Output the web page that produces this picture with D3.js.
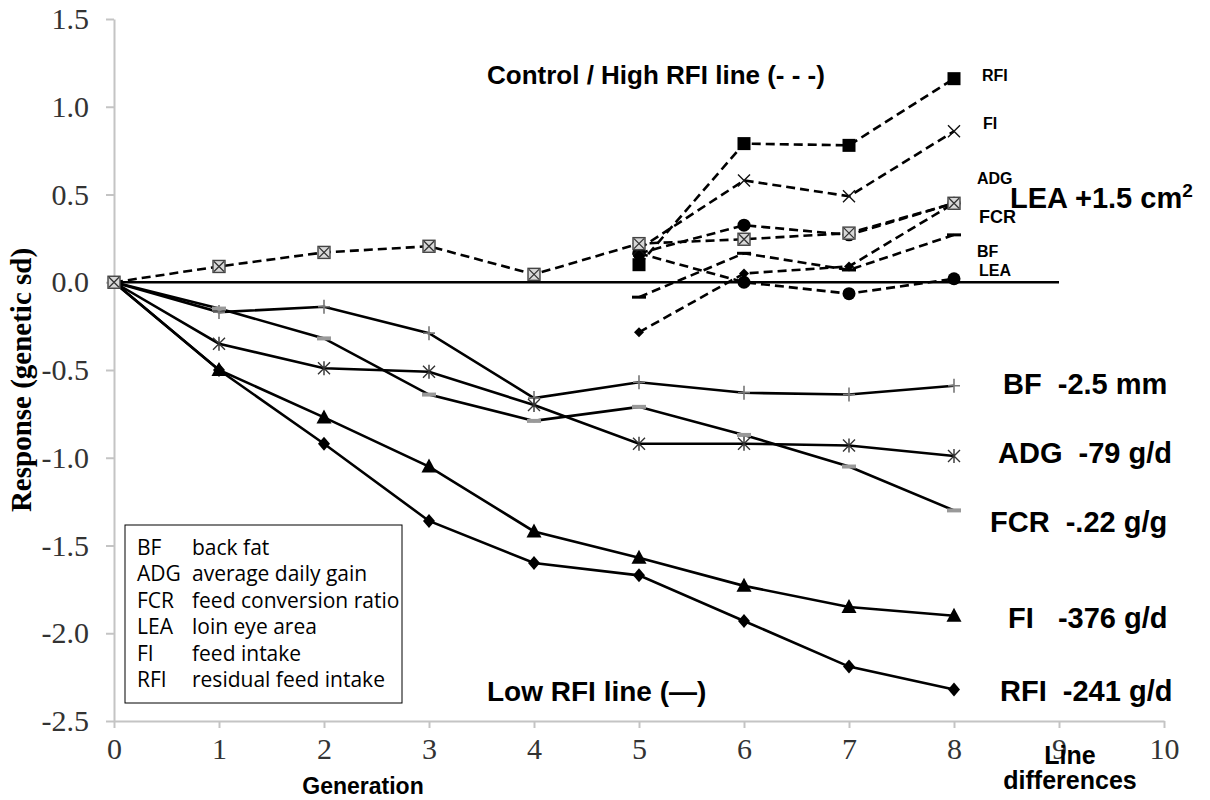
<!DOCTYPE html>
<html>
<head>
<meta charset="utf-8">
<script src="https://cdn.jsdelivr.net/npm/d3@7"></script>
<style>
  body { margin: 0; background: #fff; }
</style>
</head>
<body>
<div id="chart"></div>
<script>
var generations = [0, 1, 2, 3, 4, 5, 6, 7, 8];
var yTicks = [1.5, 1.0, 0.5, 0.0, -0.5, -1.0, -1.5, -2.0, -2.5];
var xTicks = [0, 1, 2, 3, 4, 5, 6, 7, 8, 9, 10];

// Low RFI line (solid)
var lowBF  = [0, -0.17, -0.14, -0.29, -0.66, -0.57, -0.63, -0.64, -0.59];
var lowADG = [0, -0.35, -0.49, -0.51, -0.70, -0.92, -0.92, -0.93, -0.99];
var lowFCR = [0, -0.15, -0.32, -0.64, -0.79, -0.71, -0.87, -1.05, -1.30];
var lowFI  = [0, -0.50, -0.77, -1.05, -1.42, -1.57, -1.73, -1.85, -1.90];
var lowRFI = [0, -0.50, -0.92, -1.36, -1.60, -1.67, -1.93, -2.19, -2.32];

// Control / High RFI line (dashed), null = not recorded
var ctlFCR   = [0, 0.09, 0.17, 0.205, 0.045, 0.22, 0.245, 0.28, 0.45];
var ctlRFI   = [null, null, null, null, null, 0.10, 0.79, 0.78, 1.16];
var ctlFI    = [null, null, null, null, null, 0.19, 0.58, 0.49, 0.86];
var ctlADG   = [null, null, null, null, null, 0.165, 0.325, 0.27, 0.45];
var ctlLEA   = [null, null, null, null, null, 0.165, 0.0, -0.065, 0.02];
var ctlBF    = [null, null, null, null, null, -0.085, 0.165, 0.07, 0.27];
var ctlExtra = [null, null, null, null, null, -0.285, 0.05, 0.09, 0.45];

var ctlLabels = ['RFI', 'FI', 'ADG', 'FCR', 'BF', 'LEA'];
var lineDiffs = ['BF  -2.5 mm', 'ADG  -79 g/d', 'FCR  -.22 g/g', 'FI   -376 g/d', 'RFI  -241 g/d'];
var legendAbbr = ['BF', 'ADG', 'FCR', 'LEA', 'FI', 'RFI'];
var legendDesc = ['back fat', 'average daily gain', 'feed conversion ratio', 'loin eye area', 'feed intake', 'residual feed intake'];

var WIDTH = 1210, HEIGHT = 800;
var SERIF = '"Liberation Serif", serif';
var SANS = '"Liberation Sans", Arial';

var x = d3.scaleLinear().domain([0, 10]).range([114, 1164]);
var y = d3.scaleLinear().domain([-2.5, 1.5]).range([721, 19]);

var svg = d3.select('#chart').append('svg')
  .attr('width', WIDTH)
  .attr('height', HEIGHT);

// axes
var yAxis = d3.axisLeft(y).tickValues(yTicks)
  .tickFormat(function(d) { return d.toFixed(1); })
  .tickSize(8).tickSizeOuter(0).tickPadding(17);
var xAxis = d3.axisBottom(x).tickValues(xTicks)
  .tickFormat(d3.format('d'))
  .tickSize(7).tickSizeOuter(0).tickPadding(10);

var gy = svg.append('g')
  .attr('transform', 'translate(' + x(0) + ',0)')
  .call(yAxis);
var gx = svg.append('g')
  .attr('transform', 'translate(0,' + y(-2.5) + ')')
  .call(xAxis);

[gx, gy].forEach(function(g) {
  g.attr('font-family', 'Liberation Serif').attr('font-size', 30);
  g.select('.domain').attr('stroke', '#c4c4c4').attr('stroke-width', 2);
  g.selectAll('.tick line').attr('stroke', '#c4c4c4').attr('stroke-width', 2);
  g.selectAll('.tick text')
    .attr('fill', '#333')
    .style('font-family', SERIF)
    .style('font-size', '30px');
});

// zero reference line
svg.append('line')
  .attr('x1', x(0)).attr('x2', x(9))
  .attr('y1', y(0)).attr('y2', y(0))
  .attr('stroke', '#000').attr('stroke-width', 2.5);

var line = d3.line()
  .defined(function(d) { return d != null; })
  .x(function(d, i) { return x(generations[i]); })
  .y(function(d) { return y(d); });

var lowSeries = [
  { values: lowBF,  marker: 'plus' },
  { values: lowFCR, marker: 'greydash' },
  { values: lowADG, marker: 'asterisk' },
  { values: lowFI,  marker: 'triangle' },
  { values: lowRFI, marker: 'diamond' }
];
var ctlSeries = [
  { values: ctlExtra, marker: 'smalldiamond' },
  { values: ctlBF,    marker: 'dash' },
  { values: ctlLEA,   marker: 'circle' },
  { values: ctlADG,   marker: 'circle' },
  { values: ctlFI,    marker: 'times' },
  { values: ctlRFI,   marker: 'square' },
  { values: ctlFCR,   marker: 'boxx' }
];

lowSeries.forEach(function(s) {
  svg.append('path').datum(s.values)
    .attr('d', line)
    .attr('fill', 'none')
    .attr('stroke', '#000')
    .attr('stroke-width', 2.6);
});
ctlSeries.forEach(function(s) {
  svg.append('path').datum(s.values)
    .attr('d', line)
    .attr('fill', 'none')
    .attr('stroke', '#000')
    .attr('stroke-width', 2.6)
    .attr('stroke-dasharray', '9,5');
});

function drawMarker(g, kind, cx, cy) {
  var m = g.append('g').attr('transform', 'translate(' + cx + ',' + cy + ')');
  if (kind == 'plus') {
    m.append('path').attr('d', 'M-6,0H6M0,-7V7').attr('stroke', '#777').attr('stroke-width', 1.6);
  } else if (kind == 'greydash') {
    m.append('rect').attr('x', -7).attr('y', -2).attr('width', 14).attr('height', 4).attr('fill', '#999');
  } else if (kind == 'dash') {
    m.append('rect').attr('x', -7).attr('y', -1.5).attr('width', 14).attr('height', 3).attr('fill', '#000');
  } else if (kind == 'asterisk') {
    m.append('path').attr('d', 'M-6,-6L6,6M-6,6L6,-6M0,-7V7').attr('stroke', '#333').attr('stroke-width', 1.4);
  } else if (kind == 'times') {
    m.append('path').attr('d', 'M-6,-6L6,6M-6,6L6,-6').attr('stroke', '#111').attr('stroke-width', 1.4);
  } else if (kind == 'triangle') {
    m.append('path').attr('d', 'M0,-8L7.5,6H-7.5Z').attr('fill', '#000');
  } else if (kind == 'diamond') {
    m.append('path').attr('d', 'M0,-7L6,0L0,7L-6,0Z').attr('fill', '#000');
  } else if (kind == 'smalldiamond') {
    m.append('path').attr('d', 'M0,-5L5,0L0,5L-5,0Z').attr('fill', '#000');
  } else if (kind == 'circle') {
    m.append('circle').attr('r', 6.5).attr('fill', '#000');
  } else if (kind == 'square') {
    m.append('rect').attr('x', -6.5).attr('y', -6.5).attr('width', 13).attr('height', 13).attr('fill', '#000');
  } else if (kind == 'boxx') {
    m.append('rect').attr('x', -6).attr('y', -6).attr('width', 12).attr('height', 12)
      .attr('fill', '#d8d8d8').attr('stroke', '#444').attr('stroke-width', 1.4);
    m.append('path').attr('d', 'M-5,-5L5,5M-5,5L5,-5').attr('stroke', '#333').attr('stroke-width', 1.3);
  }
}

var markers = svg.append('g');
lowSeries.forEach(function(s) {
  s.values.forEach(function(v, i) {
    if (v != null && i > 0) drawMarker(markers, s.marker, x(generations[i]), y(v));
  });
});
ctlSeries.forEach(function(s) {
  s.values.forEach(function(v, i) {
    if (v != null) drawMarker(markers, s.marker, x(generations[i]), y(v));
  });
});

function label(px, py, txt, size, family) {
  return svg.append('text')
    .attr('x', px).attr('y', py)
    .style('font-family', family || SANS)
    .style('font-weight', 'bold')
    .style('font-size', size + 'px')
    .text(txt);
}

// axis titles
svg.append('text')
  .attr('transform', 'translate(31,380) rotate(-90)')
  .attr('text-anchor', 'middle')
  .attr('font-family', 'Liberation Serif')
  .attr('font-weight', 'bold')
  .attr('font-size', 29)
  .text('Response (genetic sd)');

label(363, 794, 'Generation', 23).attr('text-anchor', 'middle');
label(1070, 764, 'Line', 25).attr('text-anchor', 'middle');
label(1070, 789, 'differences', 25).attr('text-anchor', 'middle');

// line titles
label(487, 84, 'Control / High RFI line (- - -)', 26);
label(487, 701, 'Low RFI line (\u2014)', 28);

// control-line labels next to generation 8
var ctlLabelPos = [[982, 81], [983, 129], [977, 184], [979, 223], [977, 257], [979, 276]];
ctlLabels.forEach(function(t, i) {
  label(ctlLabelPos[i][0], ctlLabelPos[i][1], t, t == 'FCR' ? 18 : 16);
});

// line differences at generation 8
var lea = label(1010, 208, '', 29);
lea.append('tspan').text('LEA +1.5 cm');
lea.append('tspan').attr('dy', -11).style('font-size', '19px').text('2');

var diffPos = [[1003, 394], [998, 463], [990, 532], [1008, 628], [1000, 701]];
lineDiffs.forEach(function(t, i) {
  label(diffPos[i][0], diffPos[i][1], t, 29)
    .attr('xml:space', 'preserve')
    .style('white-space', 'pre');
});

// abbreviation box
var legend = svg.append('g');
legend.append('rect')
  .attr('x', 125).attr('y', 525).attr('width', 277).attr('height', 178)
  .attr('fill', '#fff').attr('stroke', '#000').attr('stroke-width', 1);
legendAbbr.forEach(function(a, i) {
  var yy = 555 + i * 26.4;
  legend.append('text').attr('x', 137).attr('y', yy)
    .style('font-family', '"Open Sans"').style('font-size', '21px').text(a);
  legend.append('text').attr('x', 192).attr('y', yy)
    .style('font-family', '"Open Sans"').style('font-size', '21px').text(legendDesc[i]);
});
</script>
</body>
</html>
